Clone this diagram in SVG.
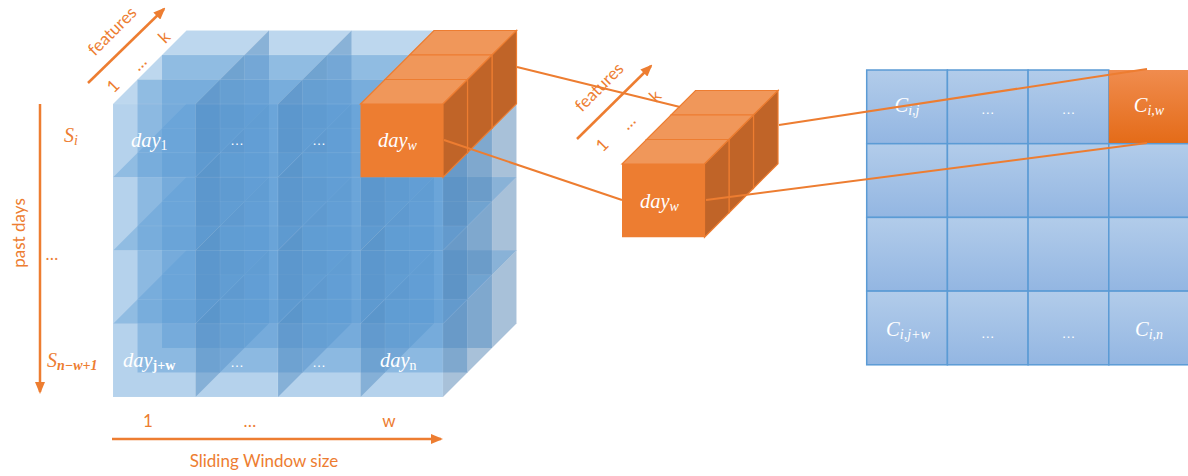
<svg xmlns="http://www.w3.org/2000/svg" xmlns:xlink="http://www.w3.org/1999/xlink" width="1188" height="476" viewBox="0 0 1188 476">
<style>
.fr{fill:#5B9BD5;fill-opacity:.45;stroke:#ffffff;stroke-opacity:.07;stroke-width:.8}
.tp{fill:#5B9BD5;fill-opacity:.4;stroke:#ffffff;stroke-opacity:.07;stroke-width:.8}
.rt{fill:#3F75AB;fill-opacity:.45;stroke:#ffffff;stroke-opacity:.07;stroke-width:.8}
.ofr{fill:#ED7D31}
.otp{fill:#F0975A;stroke:#ED7D31;stroke-width:1.2}
.ort{fill:#C06428;stroke:#ED7D31;stroke-width:1.2}
.ax{stroke:#ED7D31;stroke-width:2.5;fill:none}
.con{stroke:#ED7D31;stroke-width:2;fill:none}
.lbl{font-family:Lato,"Open Sans",sans-serif;fill:#ED7D31;font-size:17px}
.math{font-family:"Liberation Serif","DejaVu Serif",serif;font-style:italic;fill:#ffffff;font-size:20.5px}
.up{font-style:normal}
.dots{font-family:"Liberation Sans",sans-serif;fill:#ffffff;font-size:14px}
.mc{fill:url(#gb);stroke:#5B9BD5;stroke-width:1.5}
</style>
<defs>
<linearGradient id="gb" x1="0" y1="0" x2="0" y2="1">
<stop offset="0" stop-color="#B2CCEA"/>
<stop offset="1" stop-color="#93B6E2"/>
</linearGradient>
<linearGradient id="go" x1="0" y1="0" x2="0" y2="1">
<stop offset="0" stop-color="#F08C4E"/>
<stop offset="1" stop-color="#E46B18"/>
</linearGradient>
<marker id="ah" markerWidth="12" markerHeight="10" refX="10" refY="5" orient="auto" markerUnits="userSpaceOnUse">
<path d="M0 0 L12 5 L0 10 Z" fill="#ED7D31"/>
</marker>
<g id="bc">
<rect class="fr" width="82.5" height="73.25"/>
<path class="tp" d="M0 0 L24.5 -24.5 H107 L82.5 0Z"/>
<path class="rt" d="M82.5 0 L107 -24.5 V48.75 L82.5 73.25Z"/>
</g>
<g id="oc">
<path class="otp" d="M49 -49 l24.5 -24.5 h82.5 l-24.5 24.5z"/>
<path class="otp" d="M24.5 -24.5 l24.5 -24.5 h82.5 l-24.5 24.5z"/>
<path class="otp" d="M0 0 l24.5 -24.5 h82.5 l-24.5 24.5z"/>
<path class="ort" d="M131.5 -49 l24.5 -24.5 v73.25 l-24.5 24.5z"/>
<path class="ort" d="M107 -24.5 l24.5 -24.5 v73.25 l-24.5 24.5z"/>
<path class="ort" d="M82.5 0 l24.5 -24.5 v73.25 l-24.5 24.5z"/>
<rect class="ofr" width="82.5" height="73.25"/>
</g>
</defs>
<rect width="1188" height="476" fill="#ffffff"/>

<g id="cube-big">
<use href="#bc" x="162" y="55"/><use href="#bc" x="244.5" y="55"/><use href="#bc" x="327" y="55"/><use href="#bc" x="409.5" y="55"/>
<use href="#bc" x="162" y="128.25"/><use href="#bc" x="244.5" y="128.25"/><use href="#bc" x="327" y="128.25"/><use href="#bc" x="409.5" y="128.25"/>
<use href="#bc" x="162" y="201.5"/><use href="#bc" x="244.5" y="201.5"/><use href="#bc" x="327" y="201.5"/><use href="#bc" x="409.5" y="201.5"/>
<use href="#bc" x="162" y="274.75"/><use href="#bc" x="244.5" y="274.75"/><use href="#bc" x="327" y="274.75"/><use href="#bc" x="409.5" y="274.75"/>
<use href="#bc" x="137.5" y="79.5"/><use href="#bc" x="220" y="79.5"/><use href="#bc" x="302.5" y="79.5"/><use href="#bc" x="385" y="79.5"/>
<use href="#bc" x="137.5" y="152.75"/><use href="#bc" x="220" y="152.75"/><use href="#bc" x="302.5" y="152.75"/><use href="#bc" x="385" y="152.75"/>
<use href="#bc" x="137.5" y="226"/><use href="#bc" x="220" y="226"/><use href="#bc" x="302.5" y="226"/><use href="#bc" x="385" y="226"/>
<use href="#bc" x="137.5" y="299.25"/><use href="#bc" x="220" y="299.25"/><use href="#bc" x="302.5" y="299.25"/><use href="#bc" x="385" y="299.25"/>
<use href="#bc" x="113" y="104"/><use href="#bc" x="195.5" y="104"/><use href="#bc" x="278" y="104"/><use href="#bc" x="360.5" y="104"/>
<use href="#bc" x="113" y="177.25"/><use href="#bc" x="195.5" y="177.25"/><use href="#bc" x="278" y="177.25"/><use href="#bc" x="360.5" y="177.25"/>
<use href="#bc" x="113" y="250.5"/><use href="#bc" x="195.5" y="250.5"/><use href="#bc" x="278" y="250.5"/><use href="#bc" x="360.5" y="250.5"/>
<use href="#bc" x="113" y="323.75"/><use href="#bc" x="195.5" y="323.75"/><use href="#bc" x="278" y="323.75"/><use href="#bc" x="360.5" y="323.75"/>
<text class="math" x="131" y="147">day<tspan class="up" font-size="14" dy="3">1</tspan></text>
<text class="dots" x="237" y="145" text-anchor="middle">…</text>
<text class="dots" x="319" y="145" text-anchor="middle">…</text>
<text class="math" x="123" y="367">day<tspan class="up" font-size="14" font-weight="bold" dy="3">j+w</tspan></text>
<text class="dots" x="237" y="367" text-anchor="middle">…</text>
<text class="dots" x="319" y="367" text-anchor="middle">…</text>
<text class="math" x="380" y="367">day<tspan class="up" font-size="14" dy="3">n</tspan></text>
</g>

<g id="orange-col">
<use href="#oc" x="360.5" y="104"/>
<text class="math" x="378" y="147">day<tspan font-size="14" dy="3">w</tspan></text>
</g>

<g id="mid-cube">
<use href="#oc" x="622" y="164"/>
<text class="math" x="640" y="208">day<tspan font-size="14" dy="3">w</tspan></text>
</g>

<g id="matrix">
<rect class="mc" x="866.7" y="70" width="80.7" height="73.7"/>
<rect class="mc" x="947.4" y="70" width="80.7" height="73.7"/>
<rect class="mc" x="1028.1" y="70" width="80.7" height="73.7"/>
<rect x="1108.8" y="70" width="80.7" height="73.7" fill="url(#go)"/>
<rect class="mc" x="866.7" y="143.7" width="80.7" height="73.7"/>
<rect class="mc" x="947.4" y="143.7" width="80.7" height="73.7"/>
<rect class="mc" x="1028.1" y="143.7" width="80.7" height="73.7"/>
<rect class="mc" x="1108.8" y="143.7" width="80.7" height="73.7"/>
<rect class="mc" x="866.7" y="217.4" width="80.7" height="73.7"/>
<rect class="mc" x="947.4" y="217.4" width="80.7" height="73.7"/>
<rect class="mc" x="1028.1" y="217.4" width="80.7" height="73.7"/>
<rect class="mc" x="1108.8" y="217.4" width="80.7" height="73.7"/>
<rect class="mc" x="866.7" y="291.1" width="80.7" height="73.7"/>
<rect class="mc" x="947.4" y="291.1" width="80.7" height="73.7"/>
<rect class="mc" x="1028.1" y="291.1" width="80.7" height="73.7"/>
<rect class="mc" x="1108.8" y="291.1" width="80.7" height="73.7"/>
<text class="math" x="907" y="112" text-anchor="middle">C<tspan font-size="14" dy="3">i,j</tspan></text>
<text class="dots" x="987.7" y="114" text-anchor="middle">…</text>
<text class="dots" x="1068.4" y="114" text-anchor="middle">…</text>
<text class="math" x="1149" y="112" text-anchor="middle">C<tspan font-size="14" dy="3">i,w</tspan></text>
<text class="math" x="908" y="336" text-anchor="middle">C<tspan font-size="14" dy="3">i,j+w</tspan></text>
<text class="dots" x="987.7" y="338" text-anchor="middle">…</text>
<text class="dots" x="1068.4" y="338" text-anchor="middle">…</text>
<text class="math" x="1149" y="336" text-anchor="middle">C<tspan font-size="14" dy="3">i,n</tspan></text>
</g>

<g id="axes">
<line class="ax" x1="88" y1="83" x2="164" y2="9" marker-end="url(#ah)"/>
<text class="lbl" x="112" y="37" text-anchor="middle" transform="rotate(-45 112 31)">features</text>
<text class="lbl" x="113" y="92" text-anchor="middle" transform="rotate(-45 113 86)">1</text>
<text class="lbl" x="139" y="69" text-anchor="middle" transform="rotate(-45 139 63)">…</text>
<text class="lbl" x="164" y="43" text-anchor="middle" transform="rotate(-45 164 37)">k</text>
<line class="ax" x1="577" y1="139" x2="651" y2="66" marker-end="url(#ah)"/>
<text class="lbl" x="599" y="93" text-anchor="middle" transform="rotate(-45 599 87)">features</text>
<text class="lbl" x="602" y="151" text-anchor="middle" transform="rotate(-45 602 145)">1</text>
<text class="lbl" x="628" y="128" text-anchor="middle" transform="rotate(-45 628 122)">…</text>
<text class="lbl" x="655" y="102" text-anchor="middle" transform="rotate(-45 655 96)">k</text>
<line class="ax" x1="40" y1="104" x2="40" y2="392" marker-end="url(#ah)"/>
<text class="lbl" x="19" y="239" text-anchor="middle" transform="rotate(-90 19 233)">past days</text>
<text class="lbl" x="52" y="260" text-anchor="middle" font-size="8">…</text>
<text x="64" y="142" font-family="Liberation Serif,serif" font-style="italic" font-size="20" fill="#ED7D31">S<tspan font-size="14" dy="3">i</tspan></text>
<text x="47" y="367" font-family="Liberation Serif,serif" font-style="italic" font-size="20" fill="#ED7D31">S<tspan font-size="14" font-weight="bold" dy="3">n−w+1</tspan></text>
<line class="ax" x1="112" y1="439" x2="441" y2="439" marker-end="url(#ah)"/>
<text class="lbl" x="148" y="427" text-anchor="middle">1</text>
<text class="lbl" x="250" y="427" text-anchor="middle">…</text>
<text class="lbl" x="389" y="427" text-anchor="middle">w</text>
<text class="lbl" x="264" y="467" text-anchor="middle">Sliding Window size</text>
</g>

<g id="connectors">
<line class="con" x1="517" y1="67" x2="680" y2="107"/>
<line class="con" x1="444" y1="140" x2="622" y2="200"/>
<line class="con" x1="779" y1="125" x2="1147" y2="69"/>
<line class="con" x1="706" y1="200" x2="1147" y2="143"/>
</g>
</svg>
